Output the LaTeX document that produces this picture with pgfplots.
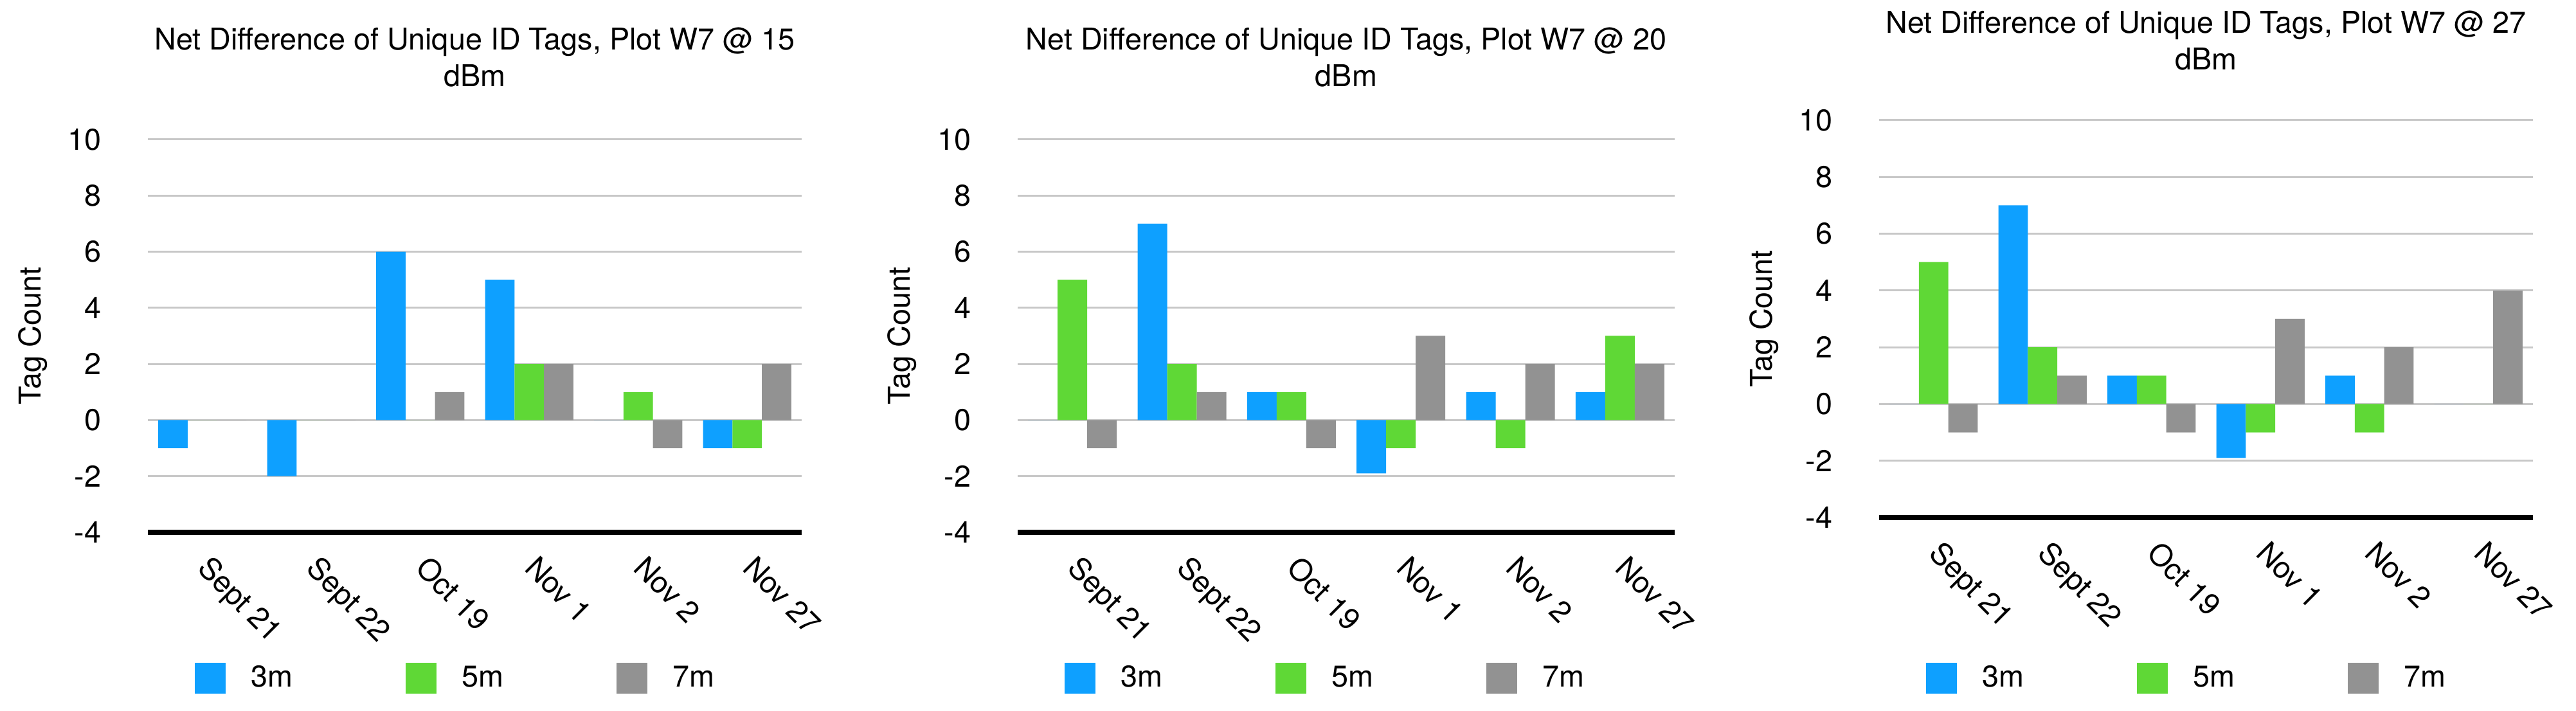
\documentclass[border=0pt]{standalone}
\usepackage{fontspec}
\setmainfont{TeX Gyre Heros}
\usepackage{pgfplots}
\usepackage{pgfplotstable}
\pgfplotsset{compat=1.18}

\definecolor{c3m}{RGB}{14,160,255}
\definecolor{c5m}{RGB}{95,216,54}
\definecolor{c7m}{RGB}{146,146,146}
\definecolor{gridgray}{RGB}{200,200,200}
\newcommand\chartfont{\fontsize{13.3}{16.2}\selectfont}

% x: 0 Sept 21, 1 Sept 22, 2 Oct 19, 3 Nov 1, 4 Nov 2, 5 Nov 27
\pgfplotstableread{
x  m3    m5  m7
0  -1    0   0
1  -2    0   0
2   6    0   1
3   5    2   2
4   0    1  -1
5  -1   -1   2
}\dbmfifteen
\pgfplotstableread{
x  m3    m5  m7
0   0    5  -1
1   7    2   1
2   1    1  -1
3  -1.9 -1   3
4   1   -1   2
5   1    3   2
}\dbmtwenty
\pgfplotstableread{
x  m3    m5  m7
0   0    5  -1
1   7    2   1
2   1    1  -1
3  -1.9 -1   3
4   1   -1   2
5   0    0   4
}\dbmtwentyseven

\pgfplotsset{
  netdiff/.style={
    scale only axis,
    width=101.7mm, height=61.1mm,
    anchor=south west,
    xmin=-0.5, xmax=5.5, ymin=-4, ymax=10,
    xtick={0,...,5},
    xticklabels={Sept 21,Sept 22,Oct 19,Nov 1,Nov 2,Nov 27},
    ytick={-2,0,...,10},
    extra y ticks={-4},
    extra y tick style={grid style={black,line width=0.85mm}},
    ymajorgrids,
    grid style={gridgray,line width=0.3mm},
    axis line style={draw=none},
    major tick length=0pt,
    tick style={draw=none},
    /pgf/number format/assume math mode=true,
    tick label style={font=\chartfont, inner sep=0pt},
    yticklabel style={anchor=east, xshift=-7.2mm},
    xticklabel style={anchor=north west, xshift=1.5mm, yshift=-3.3mm, rotate=-45},
    ylabel={Tag Count},
    ylabel style={at={(axis description cs:-0.164,0.5)}, anchor=base, font=\chartfont},
    title style={at={(0.5,1)}, anchor=north, yshift=15.4mm, inner sep=0pt, align=center, font=\chartfont},
    ybar, bar width=0.27,
    legend columns=3,
    legend cell align=left,
    legend style={draw=none, fill=none, inner sep=0pt, at={(0,0)}, anchor=west,
      xshift=7.2mm, yshift=-22.7mm, column sep=3.3mm, font=\chartfont,
      /tikz/every even column/.append style={column sep=16.8mm}},
    legend image code/.code={\fill[#1] (0mm,-2.4mm) rectangle (4.8mm,2.4mm);},
  },
  s3/.style={draw=none, fill=c3m, bar shift=-0.27},
  s5/.style={draw=none, fill=c5m, bar shift=0},
  s7/.style={draw=none, fill=c7m, bar shift=0.27},
}

\begin{document}
\begin{tikzpicture}
\path (0,0) rectangle (400.7mm,110.6mm);

% 15 dBm
\begin{axis}[netdiff, at={(23.0mm,27.8mm)},
  title={Net Difference of Unique ID Tags, Plot W7 @ 15\\dBm}]
  \addplot[s3] table[x=x, y=m3] {\dbmfifteen};
  \addplot[s5] table[x=x, y=m5] {\dbmfifteen};
  \addplot[s7] table[x=x, y=m7] {\dbmfifteen};
  \legend{3m,5m,7m}
\end{axis}

% 20 dBm
\begin{axis}[netdiff, at={(158.3mm,27.8mm)}, width=102.2mm,
  title={Net Difference of Unique ID Tags, Plot W7 @ 20\\dBm}]
  \addplot[s3] table[x=x, y=m3] {\dbmtwenty};
  \addplot[s5] table[x=x, y=m5] {\dbmtwenty};
  \addplot[s7] table[x=x, y=m7] {\dbmtwenty};
  \legend{3m,5m,7m}
\end{axis}

% 27 dBm (shifts below add to the shared ones)
\begin{axis}[netdiff, at={(292.3mm,30.1mm)}, height=61.8mm,
  title style={yshift=-0.4mm},
  legend style={yshift=-2.3mm},
  title={Net Difference of Unique ID Tags, Plot W7 @ 27\\dBm}]
  \addplot[s3] table[x=x, y=m3] {\dbmtwentyseven};
  \addplot[s5] table[x=x, y=m5] {\dbmtwentyseven};
  \addplot[s7] table[x=x, y=m7] {\dbmtwentyseven};
  \legend{3m,5m,7m}
\end{axis}
\end{tikzpicture}
\end{document}
